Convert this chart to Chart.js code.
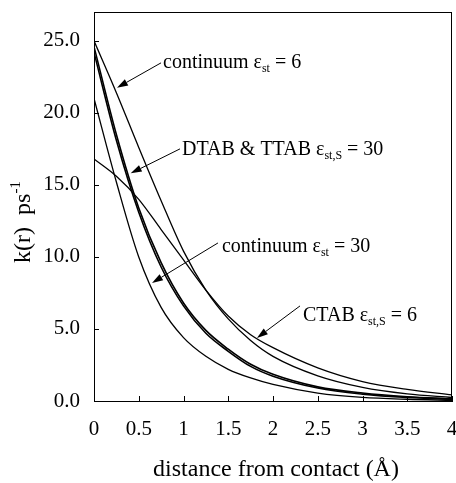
<!DOCTYPE html>
<html lang="en">

<head>
  <meta charset="UTF-8">
  <title>k(r) vs distance from contact</title>
  <script src="https://cdn.jsdelivr.net/npm/chart.js"></script>
  <style>
    html,
    body {
      margin: 0;
      padding: 0;
      background: #ffffff;
    }

    .chart-container {
      width: 456px;
      height: 483px;
      position: relative;
    }
  </style>
</head>

<body>

  <div class="chart-container">
    <canvas id="rateChart"></canvas>
  </div>

  <script>
    // values
    const distance = [0, 0.25, 0.5, 0.75, 1, 1.25, 1.5, 1.75, 2, 2.5, 3, 3.5, 4];
    const continuum6 = [25.0, 21.4, 17.6, 13.9, 10.4, 7.7, 5.7, 4.2, 3.1, 1.75, 0.95, 0.5, 0.25];
    const dtab30 = [24.6, 18.5, 13.4, 9.6, 6.8, 4.9, 3.6, 2.55, 1.85, 0.98, 0.55, 0.3, 0.15];
    const ttab30 = [24.2, 18.1, 13.1, 9.3, 6.6, 4.7, 3.45, 2.4, 1.72, 0.9, 0.48, 0.25, 0.12];
    const continuum30 = [21.0, 15.2, 10.0, 6.5, 4.4, 3.1, 2.2, 1.6, 1.15, 0.55, 0.25, 0.12, 0.05];
    const ctab6 = [16.8, 15.6, 14.0, 11.9, 9.8, 7.7, 5.9, 4.6, 3.7, 2.3, 1.35, 0.8, 0.42];

    const xTicks = [0, 0.5, 1, 1.5, 2, 2.5, 3, 3.5, 4];
    const yTicks = [0, 5, 10, 15, 20, 25];

    const FONT = '"Liberation Serif", "DejaVu Serif", serif';

    // labels with arrows, in data coordinates
    const notes = [
      { parts: [['continuum '], ['ε'], ['st', 'sub'], [' = 6']], x: 0.771, y: 23.13, from: [0.749, 23.47], to: [0.257, 21.74] },
      { parts: [['DTAB & TTAB '], ['ε'], ['st,S', 'sub'], [' = 30']], x: 0.983, y: 17.08, from: [0.961, 17.5], to: [0.41, 15.8] },
      { parts: [['continuum '], ['ε'], ['st', 'sub'], [' = 30']], x: 1.43, y: 10.35, from: [1.385, 10.97], to: [0.648, 8.19] },
      { parts: [['CTAB '], ['ε'], ['st,S', 'sub'], [' = 6']], x: 2.335, y: 5.56, from: [2.302, 6.6], to: [1.821, 4.375] }
    ];

    function toPoints(ys) {
      return distance.map((d, i) => ({ x: d, y: ys[i] }));
    }

    function curve(label, ys, width) {
      return {
        label: label,
        data: toPoints(ys),
        borderColor: '#000',
        borderWidth: width,
        pointRadius: 0,
        fill: false,
        cubicInterpolationMode: 'monotone'
      };
    }

    function richWidth(ctx, parts, size) {
      let w = 0;
      parts.forEach(p => {
        ctx.font = (p[1] ? Math.round(size * 0.62) : size) + 'px ' + FONT;
        w += ctx.measureText(p[0]).width;
      });
      return w;
    }

    function drawRich(ctx, x, y, parts, size) {
      parts.forEach(p => {
        const small = Math.round(size * 0.62);
        ctx.font = (p[1] ? small : size) + 'px ' + FONT;
        let dy = 0;
        if (p[1] === 'sub') dy = size * 0.22;
        if (p[1] === 'sup') dy = -size * 0.4;
        ctx.fillText(p[0], x, y + dy);
        x += ctx.measureText(p[0]).width;
      });
    }

    function drawArrow(ctx, x1, y1, x2, y2) {
      const a = Math.atan2(y2 - y1, x2 - x1);
      const len = 11, half = 3.5;
      ctx.beginPath();
      ctx.moveTo(x1, y1);
      ctx.lineTo(x2 - Math.cos(a) * len, y2 - Math.sin(a) * len);
      ctx.lineWidth = 1;
      ctx.stroke();
      ctx.beginPath();
      ctx.moveTo(x2, y2);
      ctx.lineTo(x2 - Math.cos(a) * len - Math.sin(a) * half, y2 - Math.sin(a) * len + Math.cos(a) * half);
      ctx.lineTo(x2 - Math.cos(a) * len + Math.sin(a) * half, y2 - Math.sin(a) * len - Math.cos(a) * half);
      ctx.closePath();
      ctx.fill();
    }

    const decorations = {
      id: 'decorations',
      afterDraw(chart) {
        const ctx = chart.ctx;
        const area = chart.chartArea;
        const xs = chart.scales.x, ys = chart.scales.y;
        ctx.save();
        ctx.strokeStyle = '#000';
        ctx.fillStyle = '#000';

        // frame
        ctx.lineWidth = 1;
        ctx.strokeRect(area.left + 0.5, area.top + 0.5, area.right - area.left - 1, area.bottom - area.top);

        // inward tick marks
        ctx.beginPath();
        yTicks.forEach(v => {
          const py = Math.round(ys.getPixelForValue(v)) + 0.5;
          ctx.moveTo(area.left, py);
          ctx.lineTo(area.left + 5, py);
        });
        xTicks.forEach(v => {
          const px = Math.round(xs.getPixelForValue(v)) + 0.5;
          ctx.moveTo(px, area.bottom);
          ctx.lineTo(px, area.bottom - 5);
        });
        ctx.stroke();

        // annotations
        ctx.textBaseline = 'alphabetic';
        ctx.textAlign = 'left';
        notes.forEach(n => {
          drawRich(ctx, xs.getPixelForValue(n.x), ys.getPixelForValue(n.y), n.parts, 20);
          drawArrow(ctx, xs.getPixelForValue(n.from[0]), ys.getPixelForValue(n.from[1]),
            xs.getPixelForValue(n.to[0]), ys.getPixelForValue(n.to[1]));
        });

        // x axis title
        ctx.font = '24px ' + FONT;
        ctx.textAlign = 'center';
        ctx.fillText('distance from contact (Å)', (area.left + area.right) / 2 + 3, 476);

        // y axis title, rotated
        const yParts = [['k(r)  ps'], ['-1', 'sup']];
        ctx.translate(30, 222);
        ctx.rotate(-Math.PI / 2);
        ctx.textAlign = 'left';
        const w = richWidth(ctx, yParts, 24);
        drawRich(ctx, -w / 2, 0, yParts, 24);
        ctx.restore();
      }
    };

    const ctx = document.getElementById('rateChart').getContext('2d');
    new Chart(ctx, {
      type: 'line',
      data: {
        datasets: [
          curve('continuum εst = 6', continuum6, 1.3),
          curve('DTAB εst,S = 30', dtab30, 1.6),
          curve('TTAB εst,S = 30', ttab30, 1.6),
          curve('continuum εst = 30', continuum30, 1.3),
          curve('CTAB εst,S = 6', ctab6, 1.3)
        ]
      },
      options: {
        responsive: true,
        maintainAspectRatio: false,
        animation: false,
        layout: { padding: { top: 12, right: 4, bottom: 0, left: 0 } },
        plugins: {
          legend: { display: false },
          tooltip: { enabled: false }
        },
        scales: {
          x: {
            type: 'linear',
            min: 0,
            max: 4,
            afterFit: s => { s.height = 82; s.paddingLeft = 0; s.paddingRight = 0; },
            afterBuildTicks: s => { s.ticks = xTicks.map(v => ({ value: v })); },
            grid: { display: false, drawTicks: false },
            border: { display: true, color: '#000', width: 1 },
            ticks: {
              color: '#000',
              padding: 16,
              maxRotation: 0,
              font: { family: FONT, size: 21 },
              callback: v => String(v)
            }
          },
          y: {
            min: 0,
            max: 27,
            afterFit: s => { s.width = 94; s.paddingTop = 0; s.paddingBottom = 0; },
            afterBuildTicks: s => { s.ticks = yTicks.map(v => ({ value: v })); },
            grid: { display: false, drawTicks: false },
            border: { display: true, color: '#000', width: 1 },
            ticks: {
              color: '#000',
              padding: 14,
              font: { family: FONT, size: 21 },
              callback: v => v.toFixed(1)
            }
          }
        }
      },
      plugins: [decorations]
    });
  </script>

</body>

</html>
